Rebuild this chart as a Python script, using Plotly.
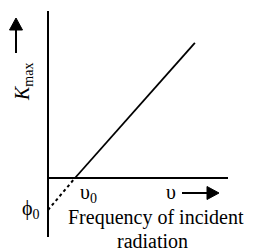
import plotly.graph_objects as go

# Data (arbitrary units)
threshold_freq = [1.0]          # υ0
work_function = [1.0]           # φ0 (magnitude of intercept)
freq_solid = [1.0, 5.44]
kmax_solid = [0.0, 4.22]
freq_dotted = [0.0, 1.0]
kmax_dotted = [-1.0, 0.0]

# Pixel mapping helpers (only for layout ranges)
W, H = 253, 251
OX, OY = 48, 178       # origin pixel
SX, SY = 27.0, 32.0    # px per unit

def px(x):
    return (x - OX) / SX

def py(y):
    return (OY - y) / SY

def path(points):
    return "M " + " L ".join(f"{px(a):.4f},{py(b):.4f}" for a, b in points) + " Z"

SERIF = "Liberation Serif, Times New Roman, serif"
FONT = dict(family=SERIF, size=20, color="black")

fig = go.Figure()
fig.add_trace(go.Scatter(x=freq_solid, y=kmax_solid, mode="lines",
                         line=dict(color="black", width=1.8), hoverinfo="skip"))
fig.add_trace(go.Scatter(x=freq_dotted, y=kmax_dotted, mode="lines",
                         line=dict(color="black", width=2, dash="dot"), hoverinfo="skip"))

blk = dict(color="black", width=2)
shapes = [
    # axes
    dict(type="line", x0=0, x1=0, y0=py(11), y1=py(237), line=blk),
    dict(type="line", x0=0, x1=px(228), y0=0, y1=0, line=blk),
    # up arrow
    dict(type="line", x0=px(16), x1=px(16), y0=py(53), y1=py(28), line=blk),
    dict(type="path", path=path([(16, 18), (9.5, 30), (22.5, 30)]),
         fillcolor="black", line=dict(color="black", width=1)),
    # right arrow
    dict(type="line", x0=px(182), x1=px(208), y0=py(193), y1=py(193), line=blk),
    dict(type="path", path=path([(219, 193), (207, 186.5), (207, 199.5)]),
         fillcolor="black", line=dict(color="black", width=1)),
]

annotations = [
    dict(x=px(23), y=py(82), text="<i>K</i><sub>max</sub>", textangle=-90, showarrow=False,
         font=FONT, xanchor="center", yanchor="middle"),
    dict(x=px(88), y=py(193), text="υ<sub>0</sub>", showarrow=False, font=FONT),
    dict(x=px(171), y=py(192), text="υ", showarrow=False, font=FONT),
    dict(x=px(31), y=py(209), text="ϕ<sub>0</sub>", showarrow=False, font=FONT),
    dict(x=px(156), y=py(217), text="Frequency of incident", showarrow=False, font=FONT),
    dict(x=px(152), y=py(241), text="radiation", showarrow=False, font=FONT),
]

fig.update_layout(
    width=W, height=H, margin=dict(l=0, r=0, t=0, b=0),
    font=FONT,
    paper_bgcolor="white", plot_bgcolor="white", showlegend=False,
    xaxis=dict(range=[px(0), px(W)], visible=False, fixedrange=True),
    yaxis=dict(range=[py(H), py(0)], visible=False, fixedrange=True),
    shapes=shapes, annotations=annotations,
)

fig.write_html("out.html", config={"displayModeBar": False},
               post_script="document.body.style.margin='0';document.body.style.overflow='hidden';")
